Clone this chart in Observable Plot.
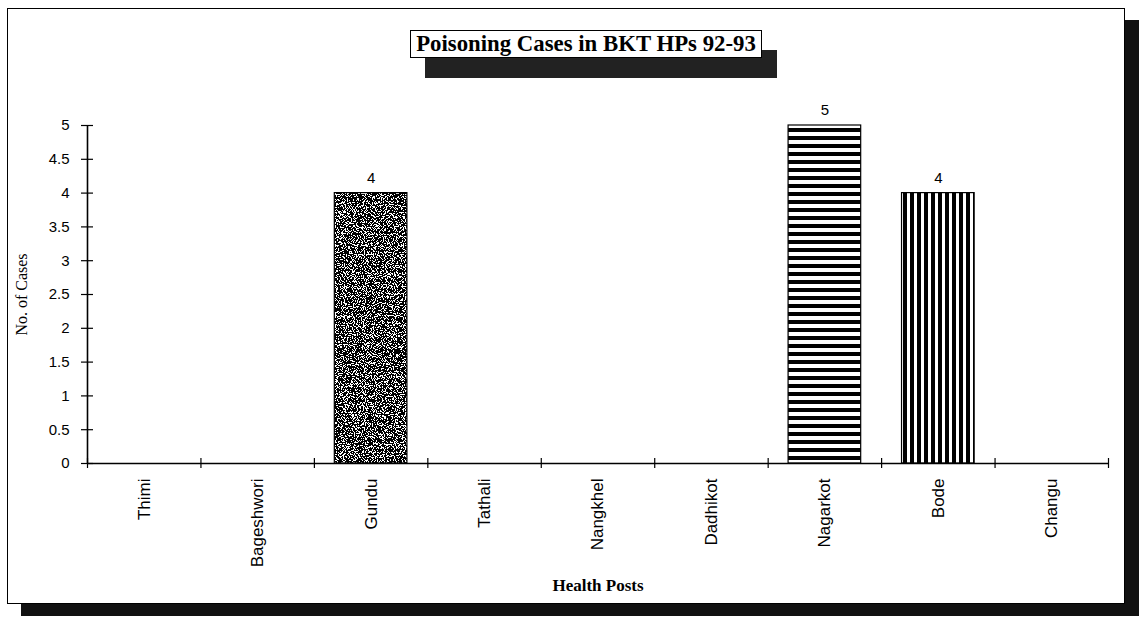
<!DOCTYPE html>
<html>
<head>
<meta charset="utf-8">
<script src="https://cdn.jsdelivr.net/npm/d3@7"></script>
<script src="https://cdn.jsdelivr.net/npm/@observablehq/plot@0.6"></script>
<style>
  html, body { margin: 0; padding: 0; background: #fff; }
  #wrap { position: relative; width: 1140px; height: 618px; overflow: hidden; background: #fff; }
  #frame { position: absolute; left: 7px; top: 8px; width: 1116px; height: 594px;
           border: 1.5px solid #000; background: #fff; box-shadow: 14px 12px 0 #111; }
  #chart { position: absolute; left: 0; top: 0; }
  #title { position: absolute; left: 410px; top: 30px; width: 350px; height: 26px;
           border: 1.5px solid #000; background: #fff; box-shadow: 15px 20px 0 #222;
           font-family: "Liberation Serif", "Times New Roman", serif; font-weight: bold;
           font-size: 22.8px; line-height: 26px; text-align: center; color: #000; white-space: nowrap; }
</style>
</head>
<body>
<div id="wrap">
  <div id="frame"></div>
  <div id="chart"></div>
  <div id="title"></div>
</div>
<script>
// ---- data ----
const categories = ["Thimi", "Bageshwori", "Gundu", "Tathali", "Nangkhel", "Dadhikot", "Nagarkot", "Bode", "Changu"];
const cases = [0, 0, 4, 0, 0, 0, 5, 4, 0];
const yTicks = [0, 0.5, 1, 1.5, 2, 2.5, 3, 3.5, 4, 4.5, 5];
const titleText = "Poisoning Cases in BKT HPs 92-93";
const xLabel = "Health Posts";
const yLabel = "No. of Cases";

// ---- styles (fill patterns per category) ----
const fillFor = {Gundu: "url(#pGrain)", Nagarkot: "url(#pHStripes)", Bode: "url(#pVStripes)"};

document.getElementById("title").textContent = titleText;

const rows = categories.map((c, i) => ({cat: c, i, value: cases[i]}));
const bars = rows.filter(d => d.value > 0);
const pad = 0.18;
const serif = "'Liberation Serif', 'Times New Roman', serif";

const chart = Plot.plot({
  width: 1140,
  height: 618,
  marginLeft: 87,
  marginRight: 32,
  marginTop: 125,
  marginBottom: 155,
  x: {domain: [0, categories.length]},
  y: {domain: [0, 5]},
  color: {type: "identity"},
  style: {fontFamily: "'Liberation Sans', Arial, sans-serif", background: "transparent", color: "#000", overflow: "visible"},
  marks: [
    Plot.rectY(bars, {x1: d => d.i + pad, x2: d => d.i + 1 - pad, y: "value", fill: d => fillFor[d.cat] || "#fff"}),
    Plot.rectY(bars, {x1: d => d.i + pad, x2: d => d.i + 1 - pad, y: "value", fill: "none", stroke: "#000", strokeWidth: 1.2}),
    Plot.ruleY([0], {stroke: "#000", strokeWidth: 1.6}),
    Plot.ruleX([0], {stroke: "#000", strokeWidth: 1.6}),
    Plot.ruleX(d3.range(categories.length + 1), {x: d => d, y1: 0, y2: 0, insetTop: -5, insetBottom: -5, stroke: "#000", strokeWidth: 1.2}),
    Plot.ruleY(yTicks, {y: d => d, x1: 0, x2: 0, insetLeft: -6, insetRight: -6, stroke: "#000", strokeWidth: 1.2}),
    Plot.axisY({ticks: yTicks, tickSize: 0, tickPadding: 18, tickFormat: d => String(d), fontSize: 15, label: null}),
    Plot.axisX({ticks: categories.map((c, i) => i + 0.5), tickFormat: d => categories[Math.floor(d)], tickRotate: -90,
                tickSize: 0, tickPadding: 15, fontSize: 17, label: null}),
    Plot.text(bars, {x: d => d.i + 0.5, y: "value", text: d => String(d.value), dy: -15, fontSize: 15}),
    Plot.text([yLabel], {frameAnchor: "left", dx: -66, rotate: -90, textAnchor: "middle", fontFamily: serif, fontSize: 16}),
    Plot.text([xLabel], {frameAnchor: "bottom", dy: 127, fontFamily: serif, fontWeight: "bold", fontSize: 17})
  ]
});

const defs = `
<filter id="grain" x="0" y="0" width="1" height="1" color-interpolation-filters="sRGB">
  <feTurbulence type="fractalNoise" baseFrequency="0.9" numOctaves="2" seed="7" stitchTiles="stitch"/>
  <feColorMatrix type="matrix" values="1 0 0 0 0  1 0 0 0 0  1 0 0 0 0  0 0 0 0 1"/>
  <feComponentTransfer>
    <feFuncR type="discrete" tableValues="0 0 0 0 0 0 0 0 0 0 0 1 1 1 1 1 1 1 1 1"/>
    <feFuncG type="discrete" tableValues="0 0 0 0 0 0 0 0 0 0 0 1 1 1 1 1 1 1 1 1"/>
    <feFuncB type="discrete" tableValues="0 0 0 0 0 0 0 0 0 0 0 1 1 1 1 1 1 1 1 1"/>
  </feComponentTransfer>
</filter>
<pattern id="pGrain" patternUnits="userSpaceOnUse" width="160" height="400">
  <rect width="160" height="400" fill="#fff" filter="url(#grain)"/>
</pattern>
<pattern id="pHStripes" patternUnits="userSpaceOnUse" width="10" height="8">
  <rect width="10" height="8" fill="#fff"/><rect width="10" height="4" fill="#000"/>
</pattern>
<pattern id="pVStripes" patternUnits="userSpaceOnUse" width="7" height="10">
  <rect width="7" height="10" fill="#fff"/><rect width="4" height="10" fill="#000"/>
</pattern>`;
const svg = chart.tagName.toLowerCase() === "svg" ? chart : chart.querySelector("svg");
const d = document.createElementNS("http://www.w3.org/2000/svg", "defs");
d.innerHTML = defs;
svg.insertBefore(d, svg.firstChild);

document.getElementById("chart").appendChild(chart);
</script>
</body>
</html>
